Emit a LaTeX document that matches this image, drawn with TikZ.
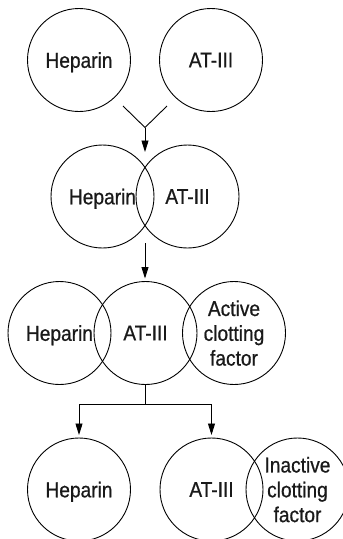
\documentclass[tikz,border=0pt]{standalone}
\usepackage{fontspec}
\setmainfont[FakeStretch=0.89,FakeBold=0.7]{Liberation Sans}
\usetikzlibrary{arrows.meta}
\begin{document}
\begin{tikzpicture}[x=1pt,y=-1pt,
  blob/.style={circle,draw,line width=0.9pt,minimum size=103pt,inner sep=0pt,outer sep=0pt,
    align=center,font=\fontsize{21.5}{24.8}\selectfont,text depth=0pt,text=black!90},
  conn/.style={line width=0.9pt},
  arr/.style={conn,-{Triangle[length=11.5pt,width=7pt]}}]
\useasboundingbox (0,0) rectangle (343,539);
\clip (0,0) rectangle (343,539);
\node[blob] (h1) at (79,60) {Heparin};
\node[blob] (a1) at (211,60) {AT-III};
\coordinate (yl) at (123,106);
\coordinate (yr) at (167,106);
\coordinate (yj) at (145,127.5);
\coordinate (t2) at (145,152);
\draw[conn] (yl) -- (yj) -- (yr);
\draw[arr] (yj) -- (t2);
\node[blob] (h2) at (102.5,196.5) {Heparin};
\node[blob] (a2) at (187.5,196.5) {AT-III};
\coordinate (s3) at (145,243);
\coordinate (t3) at (145,278.5);
\draw[arr] (s3) -- (t3);
\node[blob] (h3) at (59.5,333) {Heparin};
\node[blob] (a3) at (145.5,333) {AT-III};
\node[blob] (c3) at (234,333) {Active\\clotting\\factor};
\node[blob] (h4) at (79,489.5) {Heparin};
\node[blob] (a4) at (211.5,489.5) {AT-III};
\node[blob] (i4) at (297.5,489.5) {Inactive\\clotting\\factor};
\draw[arr,shorten >=3pt] (a3.south) -- ++(0,20) -| (h4.north);
\draw[arr,shorten >=3pt] (a3.south) ++(0,20) -| (a4.north);
\end{tikzpicture}
\end{document}
